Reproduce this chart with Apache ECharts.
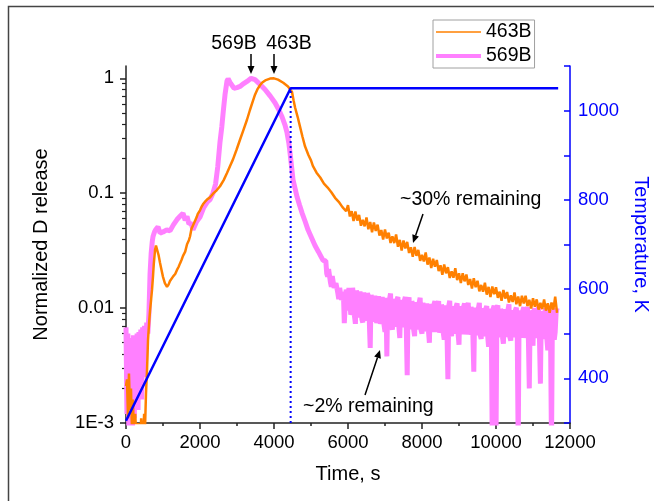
<!DOCTYPE html>
<html><head><meta charset="utf-8">
<script src="https://cdn.jsdelivr.net/npm/echarts@6/dist/echarts.min.js"></script>
<style>html,body{margin:0;padding:0;background:#fff}#c{width:654px;height:501px}</style>
</head><body><div id="c"></div>
<script>
const FONT = 'Liberation Sans, Arial, sans-serif';
const seriesNames = ['463B', '569B'];
const yTickValues = [0.001, 0.01, 0.1, 1];
const yTickLabels = ['1E-3', '0.01', '0.1', '1'];
const yMinorValues = [0.002,0.003,0.004,0.005,0.006,0.007,0.008,0.009,0.02,0.03,0.04,0.05,0.06,0.07,0.08,0.09,0.2,0.3,0.4,0.5,0.6,0.7,0.8,0.9];
const tempLabelValues = [400, 600, 800, 1000];

// 463B normalized D release [time s, value]
const d463 = [
[0,0.0021],[27,0.0024],[55,0.0011],[80,0.0027],[108,0.0013],[135,0.0020],[160,0.0009],[189,0.0016],[215,0.0007],[250,0.0012],[290,0.0006],[330,0.0010],[370,0.0005],[410,0.0011],[450,0.0006],[490,0.0012],[514,0.0009],[540,0.0018],[570,0.0030],[595,0.0053],[625,0.0075],[650,0.0095],[680,0.0120],[703,0.0144],[730,0.019],[750,0.024],[784,0.032],[810,0.035],[838,0.034],[880,0.029],[919,0.0248],[960,0.0215],[1000,0.0187],[1050,0.0165],[1108,0.0153],[1150,0.0160],[1189,0.0172],[1230,0.0168],[1280,0.0190],[1330,0.0198],[1378,0.0215],[1420,0.0228],[1460,0.0245],[1500,0.0262],[1541,0.0285],[1600,0.031],[1650,0.036],[1700,0.039],[1730,0.042],[1770,0.049],[1800,0.051],[1840,0.055],[1870,0.058],[1910,0.062],[1940,0.066],[2000,0.071],[2040,0.076],[2080,0.080],[2130,0.084],[2189,0.088],[2230,0.090],[2270,0.092],[2352,0.099],[2450,0.106],[2541,0.115],[2640,0.130],[2730,0.150],[2810,0.172],[2892,0.197],[2990,0.240],[3081,0.292],[3180,0.360],[3270,0.436],[3350,0.530],[3433,0.640],[3487,0.720],[3550,0.800],[3622,0.870],[3676,0.915],[3780,0.965],[3892,0.995],[4000,1.0],[4108,0.975],[4250,0.915],[4378,0.850],[4430,0.82],[4487,0.76],[4530,0.64],[4568,0.56],[4640,0.46],[4703,0.38],[4770,0.31],[4838,0.256],[4930,0.215],
[5000,0.193],[5050,0.173],[5100,0.170],[5150,0.151],[5200,0.154],[5250,0.137],[5300,0.134],[5350,0.121],[5400,0.121],[5450,0.112],[5500,0.115],[5550,0.102],[5600,0.1015],[5650,0.0912],[5700,0.0927],[5750,0.0842],[5800,0.0830],[5850,0.0757],[5900,0.0758],[5950,0.0697],
[6000,0.0788],[6050,0.0628],[6100,0.0697],[6150,0.0572],[6200,0.0693],[6250,0.0578],[6300,0.0648],[6350,0.0521],[6400,0.0587],[6450,0.0515],[6500,0.0616],[6550,0.0486],[6600,0.0562],[6650,0.0458],[6700,0.0556],[6750,0.0470],[6800,0.0533],[6850,0.0428],[6900,0.0478],[6950,0.0396],
[7000,0.0484],[7050,0.0404],[7100,0.0454],[7150,0.0369],[7200,0.0422],[7250,0.0368],[7300,0.0437],[7350,0.0342],[7400,0.0392],[7450,0.0317],[7500,0.0387],[7550,0.0331],[7600,0.0377],[7650,0.0302],[7700,0.0338],[7750,0.0280],[7800,0.0341],[7850,0.0285],[7900,0.0321],[7950,0.0258],
[8000,0.0291],[8050,0.0255],[8100,0.0305],[8150,0.0239],[8200,0.0276],[8250,0.0223],[8300,0.0269],[8350,0.0229],[8400,0.0262],[8450,0.0210],[8500,0.0236],[8550,0.0195],[8600,0.0240],[8650,0.0201],[8700,0.0227],[8750,0.0183],[8800,0.0209],[8850,0.0184],[8900,0.0222],[8950,0.0175],
[9000,0.0201],[9050,0.0165],[9100,0.0201],[9150,0.0171],[9200,0.0196],[9250,0.0159],[9300,0.0179],[9350,0.0148],[9400,0.0182],[9450,0.0152],[9500,0.0173],[9550,0.0140],[9600,0.0159],[9650,0.0139],[9700,0.0166],[9750,0.0131],[9800,0.0153],[9850,0.0125],[9900,0.0154],[9950,0.0132],
[10000,0.0152],[10050,0.0123],[10100,0.0139],[10150,0.0116],[10200,0.0144],[10250,0.0121],[10300,0.0138],[10350,0.0112],[10400,0.0129],[10450,0.0113],[10500,0.0137],[10550,0.0108],[10600,0.0126],[10650,0.0104],[10700,0.0128],[10750,0.0110],[10800,0.0128],[10850,0.0104],[10900,0.0118],[10950,0.0099],
[11000,0.0122],[11050,0.0103],[11100,0.0119],[11150,0.0097],[11200,0.0111],[11250,0.0098],[11300,0.0119],[11350,0.0095],[11400,0.0110],[11450,0.0091],[11500,0.0112],[11550,0.0097],[11600,0.0126],[11650,0.0091]
];

// 569B normalized D release [time s, value]
const d569 = [
[0,0.0068],[25,0.0012],[50,0.0060],[75,0.0009],[100,0.0050],[125,0.0015],[150,0.0055],[175,0.0008],[200,0.0058],[225,0.0011],[250,0.0052],[275,0.0018],[300,0.0060],[325,0.0013],[350,0.0062],[375,0.0020],[400,0.0065],[425,0.0016],[450,0.0068],[475,0.0025],[500,0.0070],[530,0.0035],[560,0.0075],[590,0.0060],[620,0.0090],[650,0.020],[680,0.030],[710,0.038],[730,0.042],[770,0.046],[800,0.048],[865,0.051],[920,0.045],[1000,0.046],[1100,0.048],[1189,0.047],[1280,0.053],[1378,0.059],[1460,0.063],[1541,0.067],[1600,0.058],[1649,0.063],[1700,0.054],[1760,0.055],[1811,0.048],[1900,0.056],[2000,0.062],[2100,0.075],[2200,0.084],[2270,0.088],[2350,0.100],[2420,0.120],[2480,0.170],[2541,0.280],[2590,0.380],[2630,0.520],[2676,0.720],[2730,0.950],[2760,0.990],[2790,0.970],[2830,0.900],[2865,0.880],[2920,0.820],[2960,0.810],[3000,0.830],[3081,0.850],[3180,0.900],[3270,0.940],[3380,1.0],[3487,0.973],[3600,0.900],[3757,0.800],[3900,0.700],[4027,0.613],[4120,0.540],[4216,0.463],[4300,0.390],[4352,0.336],[4400,0.275],[4433,0.225],[4475,0.170],[4514,0.131],[4570,0.110],[4622,0.093],[4690,0.079],[4757,0.0675],[4840,0.057],[4919,0.048],[5000,0.042],[5108,0.035],[5200,0.031],[5325,0.026],
[5400,0.0259],[5425,0.0200],[5450,0.0188],[5475,0.0218],[5500,0.0210],[5525,0.0168],[5550,0.0153],[5575,0.0190],[5600,0.0186],[5625,0.0150],[5650,0.0149],[5675,0.0165],[5700,0.0171],[5725,0.0135],[5750,0.0120],[5775,0.0150],[5800,0.0147],[5825,0.0118],[5850,0.0114],[5875,0.0138],[5900,0.0074],[5925,0.0108],[5950,0.0145],[5975,0.0135],[6000,0.0095],
[6025,0.0150],[6050,0.0146],[6075,0.0088],[6100,0.0092],[6125,0.0150],[6150,0.0125],[6175,0.0085],[6200,0.0073],[6225,0.0142],[6250,0.0133],[6275,0.0083],[6300,0.0101],[6325,0.0140],[6350,0.0140],[6375,0.0080],[6400,0.0075],[6425,0.0137],[6450,0.0110],[6475,0.0078],[6500,0.0086],[6525,0.0135],[6550,0.0127],[6575,0.0078],[6600,0.0045],[6625,0.0130],[6650,0.0116],[6675,0.0076],[6700,0.0075],[6725,0.0128],[6750,0.0123],[6775,0.0074],[6800,0.0087],[6825,0.0127],[6850,0.0123],[6875,0.0073],[6900,0.0078],[6925,0.0125],[6950,0.0106],[6975,0.0071],[7000,0.0062],
[7025,0.0123],[7050,0.0038],[7075,0.0122],[7100,0.0086],[7125,0.0121],[7150,0.0134],[7175,0.0070],[7200,0.0065],[7225,0.0120],[7250,0.0109],[7275,0.0069],[7300,0.0075],[7325,0.0119],[7350,0.0125],[7375,0.0068],[7400,0.0055],[7425,0.0118],[7450,0.0116],[7475,0.0068],[7500,0.0068],[7525,0.0117],[7550,0.0125],[7575,0.0067],[7600,0.0026],[7625,0.0116],[7650,0.0124],[7675,0.0066],[7700,0.0070],[7725,0.0114],[7750,0.0109],[7775,0.0065],[7800,0.0057],[7825,0.0113],[7850,0.0116],[7875,0.0065],[7900,0.0079],[7925,0.0112],[7950,0.0123],[7975,0.0064],[8000,0.0060],
[8025,0.0111],[8050,0.0099],[8075,0.0063],[8100,0.0069],[8125,0.0110],[8150,0.0114],[8175,0.0063],[8200,0.0050],[8225,0.0109],[8250,0.0106],[8275,0.0062],[8300,0.0062],[8325,0.0108],[8350,0.0115],[8375,0.0062],[8400,0.0073],[8425,0.0107],[8450,0.0115],[8475,0.0061],[8500,0.0066],[8525,0.0107],[8550,0.0101],[8575,0.0061],[8600,0.0053],[8625,0.0106],[8650,0.0109],[8675,0.0061],[8700,0.0024],[8725,0.0105],[8750,0.0116],[8775,0.0061],[8800,0.0057],[8825,0.0104],[8850,0.0093],[8875,0.0060],[8900,0.0066],[8925,0.0104],[8950,0.0110],[8975,0.0060],[9000,0.0048],
[9025,0.0104],[9050,0.0102],[9075,0.0059],[9100,0.0059],[9125,0.0103],[9150,0.0110],[9175,0.0059],[9200,0.0070],[9225,0.0103],[9250,0.0111],[9275,0.0059],[9300,0.0062],[9325,0.0102],[9350,0.0096],[9375,0.0058],[9400,0.0028],[9425,0.0101],[9450,0.0105],[9475,0.0058],[9500,0.0071],[9525,0.0100],[9550,0.0111],[9575,0.0058],[9600,0.0054],[9625,0.0100],[9650,0.0090],[9675,0.0057],[9700,0.0062],[9725,0.0099],[9750,0.0104],[9775,0.0057],[9800,0.0046],[9825,0.0099],[9850,0.0097],[9875,0.0057],[9900,0.0006],[9925,0.0099],[9950,0.0105],[9975,0.0057],[10000,0.0007],
[10025,0.0099],[10050,0.0106],[10075,0.0056],[10100,0.0060],[10125,0.0098],[10150,0.0093],[10175,0.0056],[10200,0.0049],[10225,0.0098],[10250,0.0101],[10275,0.0056],[10300,0.0069],[10325,0.0097],[10350,0.0108],[10375,0.0056],[10400,0.0052],[10425,0.0096],[10450,0.0086],[10475,0.0056],[10500,0.0061],[10525,0.0096],[10550,0.0101],[10575,0.0055],[10600,0.0006],[10625,0.0096],[10650,0.0094],[10675,0.0055],[10700,0.0056],[10725,0.0095],[10750,0.0102],[10775,0.0055],[10800,0.0064],[10825,0.0095],[10850,0.0102],[10875,0.0055],[10900,0.0020],[10925,0.0095],[10950,0.0090],[10975,0.0055],[11000,0.0047],
[11025,0.0095],[11050,0.0099],[11075,0.0055],[11100,0.0067],[11125,0.0094],[11150,0.0103],[11175,0.0054],[11200,0.0022],[11225,0.0094],[11250,0.0084],[11275,0.0054],[11300,0.0059],[11325,0.0094],[11350,0.0099],[11375,0.0054],[11400,0.0043],[11425,0.0093],[11450,0.0092],[11475,0.0054],[11500,0.0006],[11525,0.0093],[11550,0.0099],[11575,0.0053],[11600,0.0062],[11625,0.0092],[11650,0.0100]
];

// Temperature profile [time s, K]
const tempProfile = [[0,305],[4450,1050],[11680,1050]];
const tempMarker = [[4450,300],[4450,1050]];

const chart = echarts.init(document.getElementById('c'), null, {renderer:'canvas'});
const axisColor = '#222';
const blue = '#0000ff';
const plain = v => String(v);
const TICK_FS = 18.5, TITLE_FS = 20, NOTE_FS = 19.5;
chart.setOption({
  animation: false,
  backgroundColor: '#fff',
  textStyle: {fontFamily: FONT},
  grid: {left:126, right:84, top:66, bottom:78, containLabel:false, outerBoundsMode:'none'},
  legend: {
    data: [{name:seriesNames[0], lineStyle:{width:1.5}}, {name:seriesNames[1], lineStyle:{width:4}}],
    orient:'vertical', left:433, top:20, itemWidth:45, itemHeight:14, itemGap:4,
    padding:[2,3,2,1], borderColor:'#a0a0a0', borderWidth:1, backgroundColor:'#fff',
    itemStyle:{color:'rgba(0,0,0,0)', borderWidth:0, opacity:0},
    textStyle:{fontSize:NOTE_FS, color:'#000', fontFamily:FONT}
  },
  xAxis: {
    type:'value', min:0, max:12000, interval:2000,
    axisLine:{show:true, lineStyle:{color:axisColor, width:1.5}},
    axisTick:{show:true, length:6, lineStyle:{color:axisColor, width:1.5}},
    minorTick:{show:true, splitNumber:2, length:3, lineStyle:{color:axisColor, width:1.5}},
    splitLine:{show:false},
    axisLabel:{fontSize:TICK_FS, color:'#000', margin:10, fontFamily:FONT, formatter:plain},
    name:'Time, s', nameLocation:'middle', nameGap:41,
    nameTextStyle:{fontSize:TITLE_FS, color:'#000', fontFamily:FONT}
  },
  yAxis: [
    {
      type:'log', logBase:10, min:0.001, max:1.28, position:'left',
      axisLine:{show:true, lineStyle:{color:axisColor, width:1.5}},
      axisTick:{show:true, length:6, customValues:yTickValues, lineStyle:{color:axisColor, width:1.5}},
      axisLabel:{show:true, customValues:yTickValues, fontSize:TICK_FS, color:'#000', margin:12, fontFamily:FONT,
        formatter: v => { const i = Math.round(Math.log10(v)) + 3; return yTickLabels[i] || ''; }},
      splitLine:{show:false},
      name:'Normalized D release', nameLocation:'middle', nameGap:75,
      nameTextStyle:{fontSize:TITLE_FS, color:'#000', fontFamily:FONT}
    },
    {
      type:'value', min:300, max:1100, interval:100, position:'right',
      axisLine:{show:true, lineStyle:{color:blue, width:1.5}},
      axisTick:{show:true, inside:true, length:6, lineStyle:{color:blue, width:1.5}},
      axisLabel:{show:true, customValues:tempLabelValues, fontSize:TICK_FS, color:blue, margin:8, fontFamily:FONT, formatter:plain},
      splitLine:{show:false},
      name:'Temperature, K', nameLocation:'middle', nameGap:61, nameRotate:-90,
      nameTextStyle:{fontSize:TITLE_FS, color:blue, fontFamily:FONT}
    },
    {
      type:'log', logBase:10, min:0.001, max:1.28, position:'left',
      axisLine:{show:false},
      axisTick:{show:true, length:4, customValues:yMinorValues, lineStyle:{color:axisColor, width:1.2}},
      axisLabel:{show:false},
      splitLine:{show:false}
    }
  ],
  series: [
    {name:seriesNames[1], type:'line', yAxisIndex:0, data:d569, showSymbol:false, symbol:'none',
     lineStyle:{color:'#ff80ff', width:5}, itemStyle:{color:'#ff80ff'}, clip:true},
    {name:seriesNames[0], type:'line', yAxisIndex:0, data:d463, showSymbol:false, symbol:'none',
     lineStyle:{color:'#ff8000', width:2.5}, itemStyle:{color:'#ff8000'}, clip:true},
    {name:'T', type:'line', yAxisIndex:1, data:tempProfile, showSymbol:false, symbol:'none',
     lineStyle:{color:blue, width:2.5}, clip:true},
    {name:'Tmark', type:'line', yAxisIndex:1, data:tempMarker, showSymbol:false, symbol:'none',
     lineStyle:{color:blue, width:2, type:[2,3]}, clip:true}
  ],
  graphic: [
    {type:'rect', z:-10, shape:{x:8.5, y:6.5, width:700, height:600}, style:{fill:'none', stroke:'#444', lineWidth:1.5}},
    {type:'text', x:234, y:44, style:{text:'569B', fontSize:NOTE_FS, fontFamily:FONT, fill:'#000', align:'center', verticalAlign:'middle'}},
    {type:'text', x:289, y:44, style:{text:'463B', fontSize:NOTE_FS, fontFamily:FONT, fill:'#000', align:'center', verticalAlign:'middle'}},
    {type:'line', shape:{x1:251, y1:54, x2:251, y2:67}, style:{stroke:'#000', lineWidth:1.5}},
    {type:'polygon', shape:{points:[[247.5,66],[254.5,66],[251,74]]}, style:{fill:'#000'}},
    {type:'line', shape:{x1:274, y1:54, x2:274, y2:67}, style:{stroke:'#000', lineWidth:1.5}},
    {type:'polygon', shape:{points:[[270.5,66],[277.5,66],[274,74]]}, style:{fill:'#000'}},
    {type:'text', x:400, y:200, style:{text:'~30% remaining', fontSize:NOTE_FS, fontFamily:FONT, fill:'#000', align:'left', verticalAlign:'middle'}},
    {type:'line', shape:{x1:423, y1:214, x2:415.6, y2:235.4}, style:{stroke:'#000', lineWidth:1.5}},
    {type:'polygon', shape:{points:[[418.9,236.5],[412.3,234.3],[413,243]]}, style:{fill:'#000'}},
    {type:'text', x:303, y:407, style:{text:'~2% remaining', fontSize:NOTE_FS, fontFamily:FONT, fill:'#000', align:'left', verticalAlign:'middle'}},
    {type:'line', shape:{x1:365, y1:395, x2:377.5, y2:357.6}, style:{stroke:'#000', lineWidth:1.5}},
    {type:'polygon', shape:{points:[[380.8,358.7],[374.2,356.5],[380,350]]}, style:{fill:'#000'}}
  ]
});
</script></body></html>
